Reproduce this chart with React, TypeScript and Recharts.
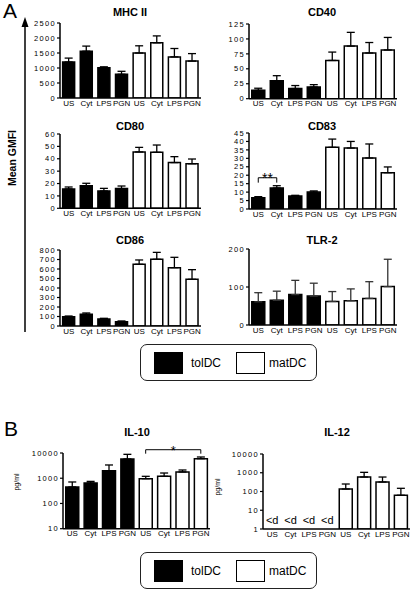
import React from 'react';
import { BarChart, Bar, XAxis, YAxis, ErrorBar, Cell, ReferenceLine } from 'recharts';

// ---------- data ----------
const ids = ['tUS', 'tCyt', 'tLPS', 'tPGN', 'mUS', 'mCyt', 'mLPS', 'mPGN'];
const tickLabels = ['US', 'Cyt', 'LPS', 'PGN', 'US', 'Cyt', 'LPS', 'PGN'];
const groupOf = ['tolDC', 'tolDC', 'tolDC', 'tolDC', 'matDC', 'matDC', 'matDC', 'matDC'];
const groups = ['tolDC', 'matDC'];
const groupFill: Record<string, string> = { tolDC: '#000000', matDC: '#ffffff' };

const mhcMean = [1200, 1560, 1010, 790, 1500, 1840, 1370, 1230];
const mhcErr = [130, 170, 30, 100, 240, 230, 280, 250];
const mhcTicks = [0, 500, 1000, 1500, 2000, 2500];

const cd40Mean = [14, 30, 17, 19.5, 64, 88, 76.5, 81.5];
const cd40Err = [3.5, 8.5, 5, 4, 14, 23, 17.5, 21];
const cd40Ticks = [0, 25, 50, 75, 100, 125];

const cd80Mean = [15.6, 18.3, 14, 15.9, 45.5, 45.2, 36.9, 36];
const cd80Err = [1.6, 1.9, 2.1, 2.1, 3.7, 5.9, 4.8, 3.8];
const cd80Ticks = [0, 10, 20, 30, 40, 50, 60];

const cd83Mean = [6.7, 12.4, 7.7, 10, 36.5, 36.1, 30.2, 21.5];
const cd83Err = [0.6, 1.4, 0.4, 0.7, 4.9, 3.9, 8.3, 3.4];
const cd83Ticks = [0, 5, 10, 15, 20, 25, 30, 35, 40, 45];

const cd86Mean = [98, 123, 74, 46, 649, 702, 614, 491];
const cd86Err = [7, 14, 7, 7, 46, 73, 109, 102];
const cd86Ticks = [0, 100, 200, 300, 400, 500, 600, 700, 800];

const tlr2Mean = [61, 65, 80, 76, 62, 64, 70, 101];
const tlr2Err = [24, 24, 37.5, 34, 26, 31, 44, 72];
const tlr2Ticks = [0, 100, 200];

const il10Mean = [450, 650, 2000, 5800, 960, 1190, 1770, 5960];
const il10Err = [260, 100, 1350, 3060, 230, 420, 350, 980];
const il10Ticks = [10, 100, 1000, 10000];

const il12Mean: (number | null)[] = [null, null, null, null, 136, 593, 321, 63];
const il12Err: (number | null)[] = [null, null, null, null, 115, 460, 270, 85];
const il12Ticks = [1, 10, 100, 1000, 10000];
const il12BelowDetection = ['tUS', 'tCyt', 'tLPS', 'tPGN'];

const FONT = '"Liberation Sans", Arial, Helvetica, sans-serif';

type PanelProps = {
  title: string;
  titleX: number;
  titleY: number;
  mean: (number | null)[];
  err: (number | null)[];
  x0: number;
  x1: number;
  y0: number;
  y1: number;
  domain: [number, number];
  ticks: number[];
  log?: boolean;
  errColor?: string;
  extra?: React.ReactNode[];
};

function Panel(p: PanelProps) {
  const rows = ids.map((id, i) => ({
    id,
    v: p.mean[i],
    e: p.mean[i] == null ? null : [0, p.err[i] as number],
  }));
  const W = p.x1 - p.x0 + 55;
  const H = p.y1 - p.y0 + 45;
  return (
    <>
      <div
        style={{
          position: 'absolute',
          left: p.titleX,
          top: p.titleY,
          transform: 'translate(-50%, -50%)',
          fontFamily: FONT,
          fontWeight: 'bold',
          fontSize: 11,
          whiteSpace: 'nowrap',
          lineHeight: 1,
        }}
      >
        {p.title}
      </div>
      <div style={{ position: 'absolute', left: p.x0 - 50, top: p.y0 - 25 }}>
        <BarChart
          width={W}
          height={H}
          data={rows}
          margin={{ top: 25, right: 5, left: 10, bottom: 0 }}
          barCategoryGap="15%"
          style={{ overflow: 'visible' }}
        >
          <XAxis
            dataKey="id"
            interval={0}
            tickLine={false}
            tickSize={0}
            height={20}
            tickMargin={2}
            axisLine={{ stroke: '#000', strokeWidth: 1.5 }}
            tick={{ fill: '#000', fontSize: 8, fontFamily: FONT }}
            tickFormatter={(v: string) => tickLabels[ids.indexOf(v)]}
          />
          <YAxis
            width={40}
            type="number"
            domain={p.domain}
            ticks={p.ticks}
            scale={p.log ? 'log' : 'auto'}
            allowDataOverflow
            interval={0}
            tickSize={3}
            tickMargin={1}
            axisLine={{ stroke: '#000', strokeWidth: 1.5 }}
            tickLine={{ stroke: '#000', strokeWidth: 1.2 }}
            tick={{ fill: '#000', fontSize: 7.5, fontFamily: FONT, letterSpacing: 1.3 }}
          />
          <Bar dataKey="v" isAnimationActive={false} stroke="#000" strokeWidth={1.5}>
            {rows.map((r, i) => (
              <Cell key={r.id} fill={groupFill[groupOf[i]]} />
            ))}
            <ErrorBar
              dataKey="e"
              width={4}
              stroke={p.errColor || '#000'}
              strokeWidth={1.3}
              direction="y"
              isAnimationActive={false}
            />
          </Bar>
          {p.extra}
        </BarChart>
      </div>
    </>
  );
}

function bracket(key: string, a: string, b: string, top: number, foot: number, mark: string, fontSize: number, offset: number) {
  return [
    <ReferenceLine
      key={key + 'h'}
      segment={[{ x: a, y: top }, { x: b, y: top }]}
      stroke="#000"
      strokeWidth={1}
      ifOverflow="visible"
      label={{ value: mark, position: 'top', fill: '#000', fontSize, fontFamily: FONT, offset }}
    />,
    <ReferenceLine key={key + 'a'} segment={[{ x: a, y: top }, { x: a, y: foot }]} stroke="#000" strokeWidth={1} ifOverflow="visible" />,
    <ReferenceLine key={key + 'b'} segment={[{ x: b, y: top }, { x: b, y: foot }]} stroke="#000" strokeWidth={1} ifOverflow="visible" />,
  ];
}

function LegendBox({ top }: { top: number }) {
  return (
    <div
      style={{
        position: 'absolute',
        left: 140,
        top,
        width: 177,
        height: 37,
        border: '1px solid #222',
        borderRadius: 7,
        boxSizing: 'border-box',
        fontFamily: FONT,
      }}
    >
      {groups.map((g, i) => (
        <React.Fragment key={g}>
          <div
            style={{
              position: 'absolute',
              left: 13 + i * 82,
              top: 7,
              width: 29,
              height: 22,
              boxSizing: 'border-box',
              border: '1px solid #000',
              background: groupFill[g],
            }}
          />
          <div
            style={{
              position: 'absolute',
              left: 50 + i * 78,
              top: 18,
              transform: 'translateY(-50%)',
              fontSize: 12,
              lineHeight: 1,
            }}
          >
            {g}
          </div>
        </React.Fragment>
      ))}
    </div>
  );
}

export default function App() {
  const il12Labels = il12BelowDetection.map((id) => (
    <ReferenceLine
      key={'d' + id}
      segment={[{ x: id, y: 3 }, { x: id, y: 3 }]}
      stroke="none"
      ifOverflow="visible"
      label={{ value: '<d', position: 'center', fill: '#000', fontSize: 11, fontFamily: FONT }}
    />
  ));

  return (
    <div
      style={{
        position: 'absolute',
        left: 0,
        top: 0,
        width: 411,
        height: 589,
        background: '#fff',
        overflow: 'hidden',
        fontFamily: FONT,
      }}
    >
      {/* Panel letters */}
      <div style={{ position: 'absolute', left: 3, top: 0, fontSize: 21, lineHeight: 1 }}>A</div>
      <div style={{ position: 'absolute', left: 4, top: 418, fontSize: 21, lineHeight: 1 }}>B</div>

      {/* Mean GMFI arrow */}
      <svg style={{ position: 'absolute', left: 0, top: 0 }} width={40} height={340}>
        <line x1={25} y1={24} x2={25} y2={332} stroke="#000" strokeWidth={1.5} />
        <polygon points="25,17 21.5,27 28.5,27" fill="#000" />
      </svg>
      <div
        style={{
          position: 'absolute',
          left: 12,
          top: 158,
          transform: 'translate(-50%, -50%) rotate(-90deg)',
          fontWeight: 'bold',
          fontSize: 10.5,
          whiteSpace: 'nowrap',
          lineHeight: 1,
        }}
      >
        Mean GMFI
      </div>

      <Panel title="MHC II" titleX={130} titleY={12} mean={mhcMean} err={mhcErr} x0={60} x1={201} y0={22.7} y1={97.7} domain={[0, 2500]} ticks={mhcTicks} />
      <Panel title="CD40" titleX={322} titleY={12} mean={cd40Mean} err={cd40Err} x0={249} x1={397} y0={24.3} y1={99} domain={[0, 125]} ticks={cd40Ticks} />
      <Panel title="CD80" titleX={130} titleY={126} mean={cd80Mean} err={cd80Err} x0={60} x1={201} y0={134} y1={208.3} domain={[0, 60]} ticks={cd80Ticks} />
      <Panel
        title="CD83"
        titleX={322}
        titleY={126}
        mean={cd83Mean}
        err={cd83Err}
        x0={249}
        x1={397}
        y0={133.3}
        y1={209.3}
        domain={[0, 45]}
        ticks={cd83Ticks}
        extra={bracket('cd83', 'tUS', 'tCyt', 18.5, 15.6, '**', 14, -5)}
      />
      <Panel title="CD86" titleX={130} titleY={240} mean={cd86Mean} err={cd86Err} x0={60} x1={201} y0={250} y1={326} domain={[0, 800]} ticks={cd86Ticks} />
      <Panel title="TLR-2" titleX={322} titleY={240} mean={tlr2Mean} err={tlr2Err} x0={249} x1={397} y0={249} y1={325} domain={[0, 200]} ticks={tlr2Ticks} errColor="#333" />

      <LegendBox top={344} />

      {/* B panels */}
      <div style={{ position: 'absolute', left: 16, top: 482, transform: 'translate(-50%, -50%) rotate(-90deg)', fontSize: 7, whiteSpace: 'nowrap', lineHeight: 1 }}>pg/ml</div>
      <div style={{ position: 'absolute', left: 217, top: 487, transform: 'translate(-50%, -50%) rotate(-90deg)', fontSize: 7, whiteSpace: 'nowrap', lineHeight: 1 }}>pg/ml</div>

      <Panel
        title="IL-10"
        titleX={137}
        titleY={432}
        mean={il10Mean}
        err={il10Err}
        x0={63}
        x1={210}
        y0={453.3}
        y1={529}
        domain={[10, 10000]}
        ticks={il10Ticks}
        log
        extra={bracket('il10', 'mUS', 'mPGN', 13500, 9400, '*', 13, -5)}
      />
      <Panel
        title="IL-12"
        titleX={337}
        titleY={432}
        mean={il12Mean}
        err={il12Err}
        x0={263}
        x1={410}
        y0={454.3}
        y1={529.3}
        domain={[1, 10000]}
        ticks={il12Ticks}
        log
        extra={il12Labels}
      />

      <LegendBox top={552} />
    </div>
  );
}
